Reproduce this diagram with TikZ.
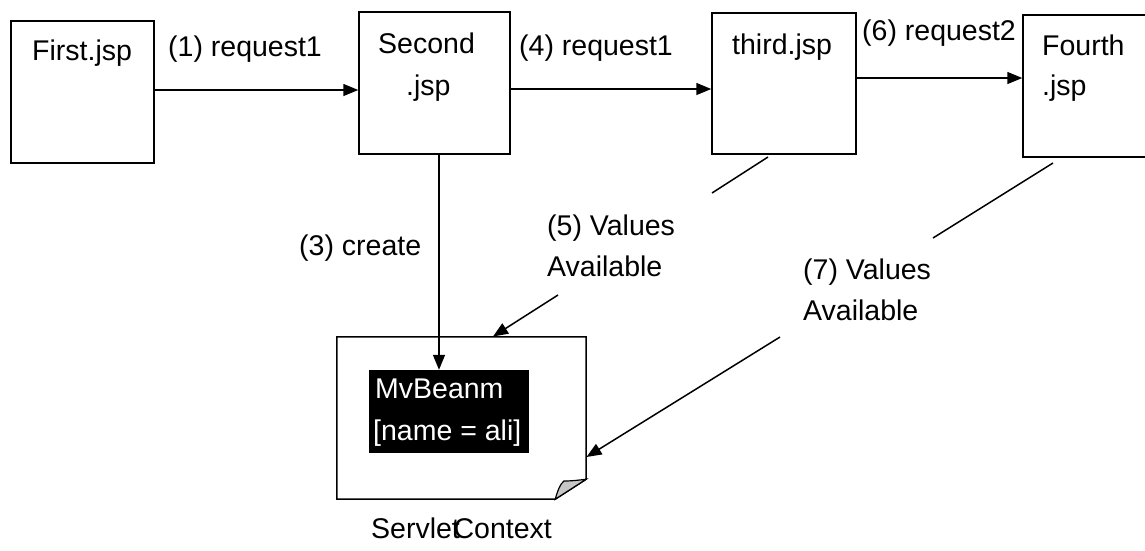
\documentclass[tikz,border=0pt]{standalone}
\usepackage{fontspec}
\setmainfont{Liberation Sans}
\usetikzlibrary{arrows.meta}
\begin{document}
\begin{tikzpicture}[x=1pt,y=-1pt,
  pagebox/.style={draw=black, line width=1.5pt, inner sep=0pt},
  txt/.style={font=\fontsize{28.5}{34}\selectfont, inner sep=0pt, anchor=base west},
  arr/.style={line width=1.5pt, -{Triangle[length=15pt,width=12pt]}},
  seg/.style={line width=1.5pt}]
\fill[white] (0,0) rectangle (1145,550);
\useasboundingbox (0,0) rectangle (1145,550);

% boxes
\node[pagebox, minimum width=143pt, minimum height=142pt] (first) at (82.5,92) {};
\node[pagebox, minimum width=151pt, minimum height=142pt] (second) at (434.5,83) {};
\node[pagebox, minimum width=144pt, minimum height=141pt] (third) at (784,83.5) {};
\node[pagebox, minimum width=127pt, minimum height=142pt] (fourth) at (1086.5,86) {};

% box texts
\node[txt] (t1) at (32,60) {First.jsp};
\node[txt] (t2a) at (378,53) {Second};
\node[txt] (t2b) at (406,95) {.jsp};
\node[txt] (t3) at (732,54) {third.jsp};
\node[txt] (t4a) at (1042,55) {Fourth};
\node[txt] (t4b) at (1042,95) {.jsp};

% servlet context page with folded corner
\node[inner sep=0pt, minimum width=249pt, minimum height=162pt] (servlet) at (461.5,418) {};
\draw[line width=1.5pt, line join=miter] (servlet.north west) -- (servlet.north east)
  -- ([yshift=20pt]servlet.south east) -- ([xshift=-31pt]servlet.south east)
  -- (servlet.south west) -- cycle;
\draw[line width=1.2pt, fill=black!22] ([xshift=-31pt]servlet.south east)
  .. controls (558,490) and (560,484) .. (564,481)
  .. controls (572,481) and (580,480) .. ([yshift=20pt]servlet.south east) -- cycle;
\node[fill=black, inner sep=0pt, minimum width=160pt, minimum height=83pt] (bean) at (449,411.5) {};
\node[txt, text=white] (bean1) at (375,398) {MvBeanm};
\node[txt, text=white] (bean2) at (373,440) {[name = ali]};
\node[txt] (sc) at (371,538) {Servlet\kern-0.22em Context};

% horizontal arrows
\coordinate (a1) at (0,90);
\coordinate (a4) at (0,89);
\coordinate (a6) at (0,78);
\draw[arr] (first.east |- a1) -- (second.west |- a1);
\draw[arr] (second.east |- a4) -- (third.west |- a4);
\draw[arr] (third.east |- a6) -- (fourth.west |- a6);

% create arrow
\coordinate (v3) at (439,0);
\draw[arr] (second.south -| v3) -- (bean.north -| v3);

% values available connectors (broken by their labels)
\coordinate (p5a) at (768,157);
\coordinate (p5b) at (712,193);
\coordinate (p5c) at (558,295);
\coordinate (p5d) at (493,336.5);
\draw[seg] (p5a) -- (p5b);
\draw[arr] (p5c) -- (p5d);
\coordinate (p7a) at (1053,163);
\coordinate (p7b) at (933,238);
\coordinate (p7c) at (780,337);
\coordinate (p7d) at (586.5,457);
\draw[seg] (p7a) -- (p7b);
\draw[arr] (p7c) -- (p7d);

% labels
\node[txt] (l1) at (168,56) {(1) request1};
\node[txt] (l4) at (519,55) {(4) request1};
\node[txt] (l6) at (862,40) {(6) request2};
\node[txt] (l3) at (299,255) {(3) create};
\node[txt] (l5a) at (547,235) {(5) Values};
\node[txt] (l5b) at (547,276) {Available};
\node[txt] (l7a) at (803,279) {(7) Values};
\node[txt] (l7b) at (803,320) {Available};
\end{tikzpicture}
\end{document}
